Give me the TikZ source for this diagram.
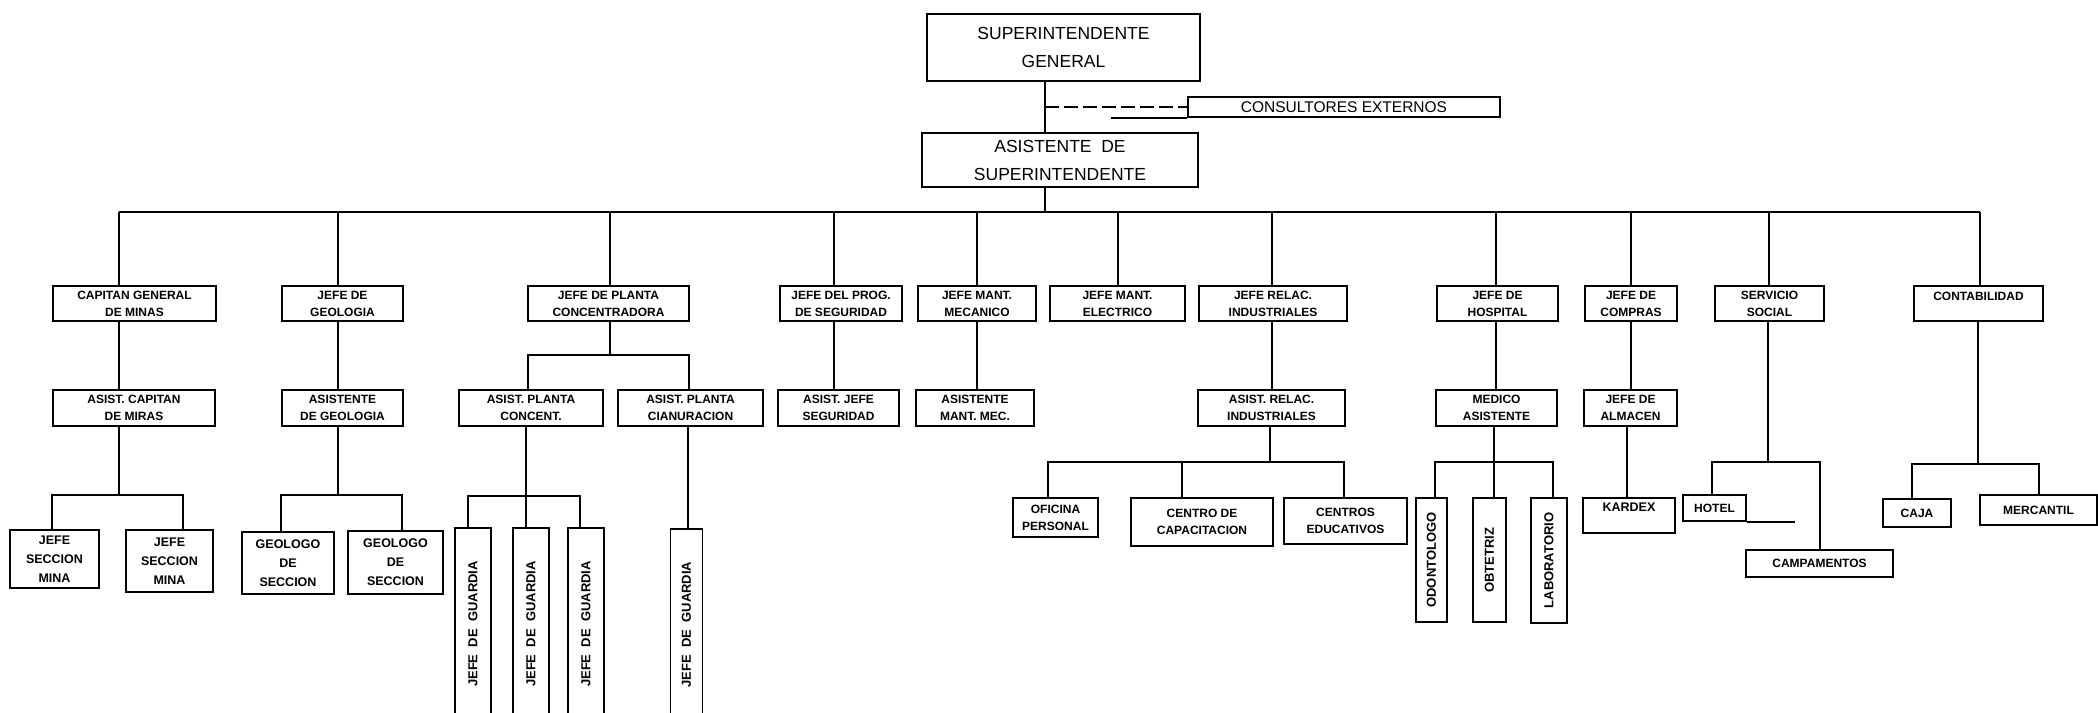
\documentclass[tikz,border=0pt]{standalone}
\usepackage{fontspec}
\setmainfont{Liberation Sans}
\newcommand\myfs[2]{\fontsize{#1}{#2}\selectfont}
\tikzset{
  box/.style={draw, line width=1.7pt, inner sep=0pt, align=center, font=\bfseries\myfs{12}{17}},
  bigbox/.style={box, font=\myfs{17.5}{28}},
  trebox/.style={box, font=\bfseries\myfs{12.5}{19}},
  vbox/.style={box, rotate=90, font=\bfseries\myfs{13}{16}},
  lbl/.style={inner sep=0pt, font=\bfseries\myfs{12}{17}},
  wh/.style 2 args={minimum width=#1, minimum height=#2},
  wire/.style={line width=1.5pt},
}
\begin{document}
\begin{tikzpicture}[x=1pt,y=-1pt]
\useasboundingbox (0,0) rectangle (2098,712);
\clip (0,0) rectangle (2098,712);
\fill[white] (0,0) rectangle (2098,712);

% ---------- top ----------
\node[bigbox, wh={273}{67}] (sup) at (1063.5,47.5) {SUPERINTENDENTE\\GENERAL};
\node[box, font=\myfs{15.5}{18}, wh={312}{20}] (cons) at (1344,107) {CONSULTORES EXTERNOS};
\node[bigbox, wh={276}{54}] (asis) at (1060,160) {ASISTENTE~~DE\\SUPERINTENDENTE};

% ---------- level 1 ----------
\node[box, wh={163}{35}] (cap) at (134.5,303.5) {CAPITAN GENERAL\\DE MINAS};
\node[box, wh={121}{35}] (geo) at (342.5,303.5) {JEFE DE\\GEOLOGIA};
\node[box, wh={161}{35}] (pla) at (608.5,303.5) {JEFE DE PLANTA\\CONCENTRADORA};
\node[box, wh={122}{35}] (seg) at (841,303.5) {JEFE DEL PROG.\\DE SEGURIDAD};
\node[box, wh={118}{35}] (mec) at (977,303.5) {JEFE MANT.\\MECANICO};
\node[box, wh={135}{35}] (ele) at (1117.5,303.5) {JEFE MANT.\\ELECTRICO};
\node[box, wh={148}{35}] (rel) at (1273,303.5) {JEFE RELAC.\\INDUSTRIALES};
\node[box, wh={121}{35}] (hos) at (1497.5,303.5) {JEFE DE\\HOSPITAL};
\node[box, wh={92}{35}] (com) at (1631,303.5) {JEFE DE\\COMPRAS};
\node[box, wh={109}{35}] (ser) at (1769.5,303.5) {SERVICIO\\SOCIAL};
\node[box, wh={129}{35}] (con) at (1978.5,303.5) {};
\node[lbl] at ([yshift=-11pt]con.north) {CONTABILIDAD};

% ---------- level 2 ----------
\node[box, wh={162}{36}] (acap) at (134,408) {ASIST. CAPITAN\\DE MIRAS};
\node[box, wh={121}{36}] (ageo) at (342.5,408) {ASISTENTE\\DE GEOLOGIA};
\node[box, wh={144}{36}] (apc) at (531,408) {ASIST. PLANTA\\CONCENT.};
\node[box, wh={145}{36}] (apci) at (690.5,408) {ASIST. PLANTA\\CIANURACION};
\node[box, wh={121}{36}] (aseg) at (838.5,408) {ASIST. JEFE\\SEGURIDAD};
\node[box, wh={118}{36}] (amec) at (975,408) {ASISTENTE\\MANT. MEC.};
\node[box, wh={147}{36}] (arel) at (1271.5,408) {ASIST. RELAC.\\INDUSTRIALES};
\node[box, wh={121}{36}] (med) at (1496.5,408) {MEDICO\\ASISTENTE};
\node[box, wh={93}{36}] (alm) at (1630.5,408) {JEFE DE\\ALMACEN};

% ---------- level 3 ----------
\node[trebox, wh={89}{58}] (jsm1) at (54.5,559) {JEFE\\SECCION\\MINA};
\node[trebox, wh={87}{62}] (jsm2) at (169.5,561) {JEFE\\SECCION\\MINA};
\node[trebox, wh={92}{62}] (gs1) at (288,563) {GEOLOGO\\DE\\SECCION};
\node[trebox, wh={95}{63}] (gs2) at (395.5,562.5) {GEOLOGO\\DE\\SECCION};
\node[vbox, wh={192}{36}] (jg1) at (473,624) {JEFE~~DE~~GUARDIA};
\node[vbox, wh={192}{36}] (jg2) at (531,624) {JEFE~~DE~~GUARDIA};
\node[vbox, wh={192}{36}] (jg3) at (586,624) {JEFE~~DE~~GUARDIA};
\node[vbox, wh={191}{32}] (jg4) at (686.5,624.5) {JEFE~~DE~~GUARDIA};
\node[box, wh={85}{39}] (ofi) at (1055.5,517.5) {OFICINA\\PERSONAL};
\node[box, wh={142}{48}] (cen) at (1202,522) {CENTRO DE\\CAPACITACION};
\node[box, wh={123}{46}] (edu) at (1345.5,521) {CENTROS\\EDUCATIVOS};
\node[vbox, wh={124}{31}] (odo) at (1431.5,560) {ODONTOLOGO};
\node[vbox, wh={124}{33}] (obt) at (1489.5,560) {OBTETRIZ};
\node[vbox, wh={125}{36}] (lab) at (1549,560.5) {LABORATORIO};
\node[box, wh={92}{35}] (kar) at (1629,515.5) {};
\node[lbl, font=\bfseries\myfs{12.5}{17}] at ([yshift=-10pt]kar.north) {KARDEX};
\node[box, wh={63}{26}] (hot) at (1714.5,508) {HOTEL};
\node[box, wh={147}{27}] (cam) at (1819.5,563.5) {CAMPAMENTOS};
\node[box, wh={68}{28}] (caj) at (1917,513) {CAJA};
\node[box, wh={117}{30}] (mer) at (2038.5,510) {MERCANTIL};

% ---------- connectors: top ----------
\coordinate (t) at (1045,212);
\draw[wire] (t |- sup.south) -- (t |- asis.north);
\draw[wire] (t |- asis.south) -- (t);
\draw[wire, dash pattern=on 14pt off 5pt] (t |- cons.west) -- (cons.west);
\draw[wire] (cons.south west) -- ++(-76,0);

% main bar
\coordinate (d1) at (119,212);
\coordinate (d2) at (338,212);
\coordinate (d3) at (610,212);
\coordinate (d4) at (834,212);
\coordinate (d5) at (977,212);
\coordinate (d6) at (1118,212);
\coordinate (d7) at (1272,212);
\coordinate (d8) at (1496,212);
\coordinate (d9) at (1631,212);
\coordinate (d10) at (1769,212);
\coordinate (d11) at (1980,212);
\draw[wire] (d1) -- (d11);
\draw[wire] (d1) -- (d1 |- cap.north);
\draw[wire] (d2) -- (d2 |- geo.north);
\draw[wire] (d3) -- (d3 |- pla.north);
\draw[wire] (d4) -- (d4 |- seg.north);
\draw[wire] (d5) -- (d5 |- mec.north);
\draw[wire] (d6) -- (d6 |- ele.north);
\draw[wire] (d7) -- (d7 |- rel.north);
\draw[wire] (d8) -- (d8 |- hos.north);
\draw[wire] (d9) -- (d9 |- com.north);
\draw[wire] (d10) -- (d10 |- ser.north);
\draw[wire] (d11) -- (d11 |- con.north);

% capitan column
\draw[wire] (d1 |- cap.south) -- (d1 |- acap.north);
\coordinate (e1) at (119,495);
\coordinate (e1a) at (52,495);
\coordinate (e1b) at (183,495);
\draw[wire] (e1 |- acap.south) -- (e1);
\draw[wire] (e1a |- jsm1.north) -- (e1a) -- (e1b) -- (e1b |- jsm2.north);

% geologia column
\draw[wire] (d2 |- geo.south) -- (d2 |- ageo.north);
\coordinate (e2) at (338,495);
\coordinate (e2a) at (281,495);
\coordinate (e2b) at (402,495);
\draw[wire] (e2 |- ageo.south) -- (e2);
\draw[wire] (e2a |- gs1.north) -- (e2a) -- (e2b) -- (e2b |- gs2.north);

% planta column
\coordinate (e3) at (610,355);
\coordinate (e3a) at (528,355);
\coordinate (e3b) at (689,355);
\draw[wire] (e3 |- pla.south) -- (e3);
\draw[wire] (e3a |- apc.north) -- (e3a) -- (e3b) -- (e3b |- apci.north);
\coordinate (f3) at (526,496);
\coordinate (f3a) at (468,496);
\coordinate (f3b) at (580,496);
\draw[wire] (f3 |- apc.south) -- (f3) -- (f3 |- jg2.east);
\draw[wire] (f3a |- jg1.east) -- (f3a) -- (f3b) -- (f3b |- jg3.east);
\coordinate (g3) at (688,440);
\draw[wire] (g3 |- apci.south) -- (g3 |- jg4.east);

% seguridad, mecanico
\draw[wire] (d4 |- seg.south) -- (d4 |- aseg.north);
\draw[wire] (d5 |- mec.south) -- (d5 |- amec.north);

% relaciones industriales
\draw[wire] (d7 |- rel.south) -- (d7 |- arel.north);
\coordinate (e7) at (1270,462);
\coordinate (e7a) at (1048,462);
\coordinate (e7m) at (1182,462);
\coordinate (e7b) at (1344,462);
\draw[wire] (e7 |- arel.south) -- (e7);
\draw[wire] (e7a |- ofi.north) -- (e7a) -- (e7b) -- (e7b |- edu.north);
\draw[wire] (e7m) -- (e7m |- cen.north);

% hospital
\draw[wire] (d8 |- hos.south) -- (d8 |- med.north);
\coordinate (e8) at (1494,462);
\coordinate (e8a) at (1435,462);
\coordinate (e8b) at (1553,462);
\draw[wire] (e8 |- med.south) -- (e8) -- (e8 |- obt.east);
\draw[wire] (e8a |- odo.east) -- (e8a) -- (e8b) -- (e8b |- lab.east);

% compras
\draw[wire] (d9 |- com.south) -- (d9 |- alm.north);
\coordinate (e9) at (1627,462);
\draw[wire] (e9 |- alm.south) -- (e9 |- kar.north);

% servicio social
\coordinate (e10) at (1768,462);
\coordinate (e10a) at (1712,462);
\coordinate (e10b) at (1820,462);
\draw[wire] (e10 |- ser.south) -- (e10);
\draw[wire] (e10a |- hot.north) -- (e10a) -- (e10b) -- (e10b |- cam.north);
\draw[wire] (hot.south east) -- ++(48,0);

% contabilidad
\coordinate (e11) at (1978,464);
\coordinate (e11a) at (1912,464);
\coordinate (e11b) at (2039,464);
\draw[wire] (e11 |- con.south) -- (e11);
\draw[wire] (e11a |- caj.north) -- (e11a) -- (e11b) -- (e11b |- mer.north);
\end{tikzpicture}
\end{document}
